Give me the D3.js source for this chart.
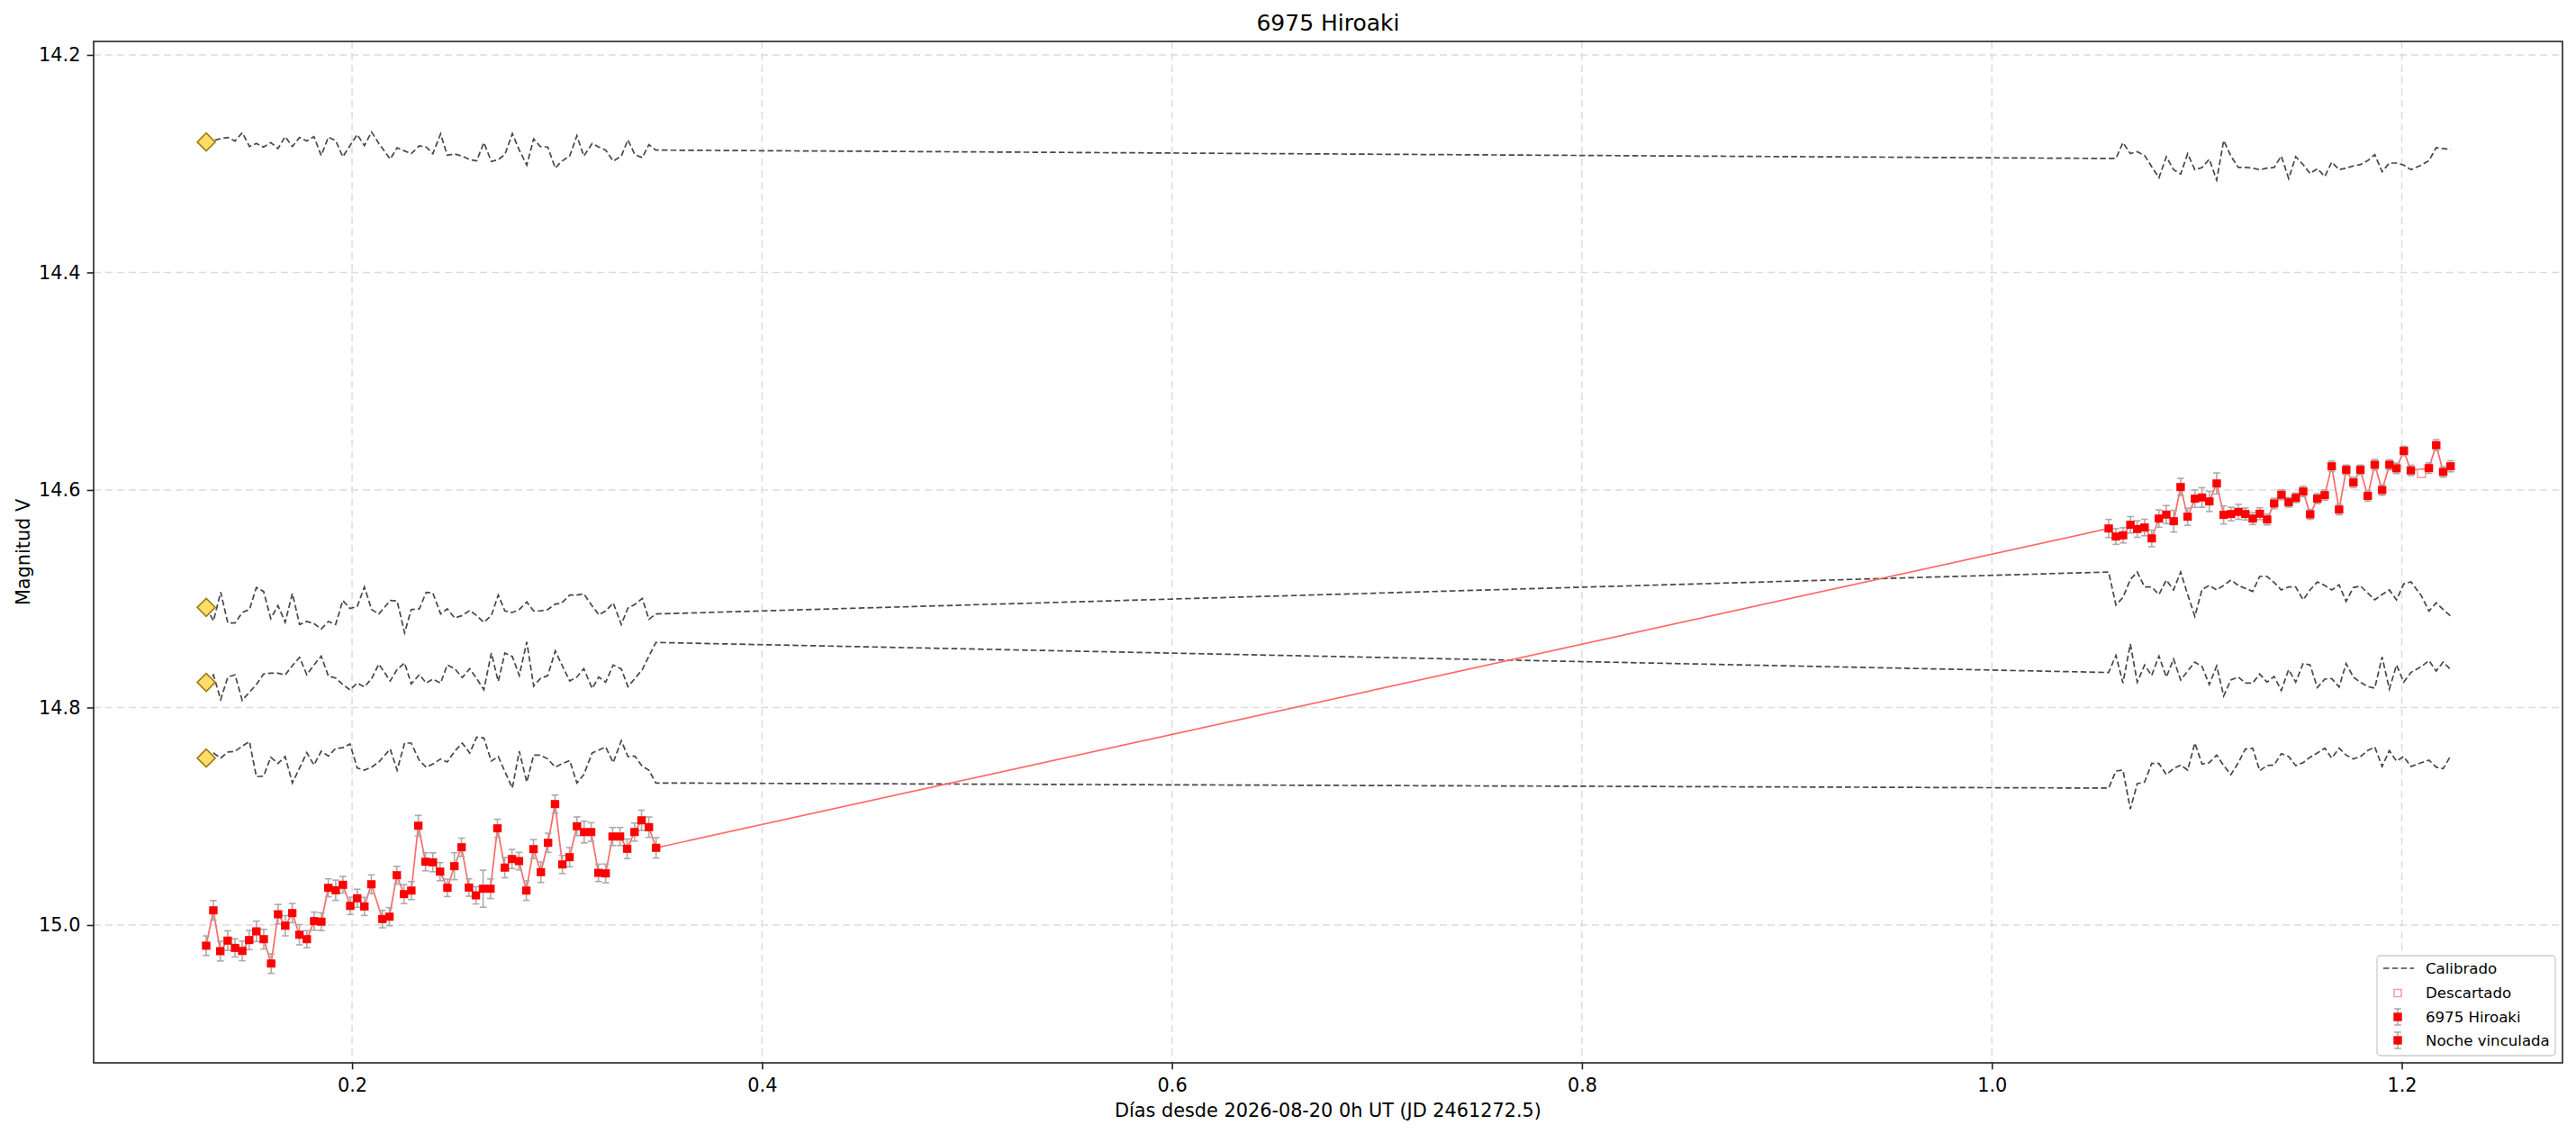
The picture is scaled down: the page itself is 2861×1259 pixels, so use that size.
<!DOCTYPE html>
<html><head><meta charset="utf-8">
<script src="https://cdn.jsdelivr.net/npm/d3@7"></script>
<style>body{margin:0;background:#fff}svg{display:block}text{font-family:"DejaVu Sans",sans-serif}</style>
</head><body><svg id="c" width="2861" height="1259"></svg>
<script>
// ---------- data ----------
const title = "6975 Hiroaki";
const xLabel = "Días desde 2026-08-20 0h UT (JD 2461272.5)";
const yLabel = "Magnitud V";
const xTicks = [0.2, 0.4, 0.6, 0.8, 1.0, 1.2];
const yTicks = [14.2, 14.4, 14.6, 14.8, 15.0];
const xDomain = [0.0739, 1.2784];
const yDomain = [14.1876, 15.1267];
const legendLabels = ["Calibrado", "Descartado", "6975 Hiroaki", "Noche vinculada"];

const night1Days = [0.1288,0.1323,0.1357,0.1393,0.1429,0.1464,0.1498,0.1533,0.1569,0.1605,0.1639,0.1674,0.1708,0.1743,0.1779,0.1815,0.1850,0.1884,0.1920,0.1955,0.1991,0.2025,0.2060,0.2094,0.2148,0.2182,0.2218,0.2253,0.2289,0.2323,0.2358,0.2394,0.2429,0.2465,0.2499,0.2534,0.2570,0.2604,0.2639,0.2675,0.2709,0.2745,0.2780,0.2814,0.2850,0.2885,0.2921,0.2956,0.2990,0.3026,0.3061,0.3097,0.3132,0.3166,0.3202,0.3237,0.3271,0.3307,0.3342,0.3378,0.3412,0.3448,0.3483];
const night1Mag = [15.0190,14.9865,15.0240,15.0143,15.0210,15.0238,15.0138,15.0058,15.0130,15.0354,14.9901,15.0006,14.9890,15.0089,15.0130,14.9964,14.9969,14.9658,14.9680,14.9630,14.9824,14.9754,14.9829,14.9625,14.9945,14.9923,14.9542,14.9716,14.9683,14.9087,14.9418,14.9423,14.9509,14.9658,14.9459,14.9285,14.9655,14.9727,14.9666,14.9666,14.9111,14.9472,14.9393,14.9412,14.9683,14.9302,14.9514,14.9244,14.8888,14.9443,14.9376,14.9092,14.9145,14.9145,14.9520,14.9525,14.9186,14.9186,14.9299,14.9145,14.9037,14.9100,14.9290];
const night1Err = [0.009,0.009,0.009,0.009,0.0083,0.009,0.0088,0.0094,0.009,0.009,0.009,0.0093,0.0088,0.0093,0.0079,0.0083,0.0082,0.0083,0.0093,0.0076,0.0079,0.0083,0.0083,0.0086,0.008,0.0083,0.0082,0.0087,0.0083,0.0095,0.0083,0.0087,0.0083,0.008,0.0124,0.0084,0.008,0.0079,0.017,0.009,0.0083,0.0093,0.0088,0.008,0.009,0.0087,0.0094,0.0088,0.0083,0.0083,0.0088,0.0086,0.01,0.0086,0.008,0.0086,0.0083,0.0083,0.009,0.0083,0.0093,0.0094,0.0094];

const night2Days = [1.0570,1.0605,1.0640,1.0676,1.0709,1.0745,1.0780,1.0815,1.0851,1.0887,1.0921,1.0955,1.0991,1.1025,1.1061,1.1097,1.1131,1.1167,1.1203,1.1237,1.1273,1.1307,1.1343,1.1377,1.1413,1.1448,1.1483,1.1519,1.1553,1.1588,1.1624,1.1658,1.1694,1.1729,1.1764,1.1798,1.1834,1.1868,1.1904,1.1940,1.1974,1.2010,1.2044,1.2132,1.2168,1.2202,1.2238];
const night2Mag = [14.6354,14.6428,14.6417,14.6320,14.6359,14.6345,14.6445,14.6263,14.6226,14.6287,14.5973,14.6246,14.6080,14.6069,14.6105,14.5940,14.6229,14.6221,14.6201,14.6221,14.6263,14.6218,14.6271,14.6124,14.6044,14.6113,14.6072,14.6014,14.6224,14.6080,14.6047,14.5782,14.6180,14.5815,14.5931,14.5815,14.6055,14.5768,14.6000,14.5768,14.5801,14.5641,14.5820,14.5799,14.5588,14.5834,14.5782];
const night2Err = [0.0083,0.0072,0.007,0.0076,0.0076,0.0076,0.0076,0.008,0.0083,0.01,0.008,0.0079,0.008,0.009,0.0093,0.0097,0.0083,0.0062,0.0069,0.0055,0.0055,0.0055,0.005,0.0048,0.0046,0.0044,0.0044,0.0048,0.0046,0.0046,0.0048,0.0048,0.0048,0.0044,0.0048,0.0044,0.0048,0.0048,0.0048,0.0046,0.0048,0.0043,0.0048,0.0048,0.0051,0.0048,0.0051];

const discardedDays = [1.2096];
const discardedMag = [14.5848];

const compDays1 = [0.12884,0.13235,0.13587,0.13938,0.14290,0.14641,0.14992,0.15329,0.15681,0.16032,0.16383,0.16735,0.17086,0.17438,0.17789,0.18140,0.18492,0.18843,0.19195,0.19546,0.19897,0.20249,0.20600,0.20952,0.21303,0.21859,0.22196,0.22562,0.22884,0.23280,0.23616,0.23939,0.24319,0.24641,0.25007,0.25374,0.25740,0.26076,0.26428,0.26794,0.27131,0.27453,0.27819,0.28155,0.28522,0.28858,0.29180,0.29546,0.29913,0.30205,0.30615,0.30967,0.31304,0.31713,0.32036,0.32372,0.32738,0.33134,0.33456,0.33793,0.34159,0.34481,0.34818];
const compDays2 = [1.05697,1.06053,1.06396,1.06756,1.07093,1.07454,1.07795,1.08153,1.08513,1.08864,1.09211,1.09553,1.09904,1.10255,1.10607,1.10968,1.11310,1.11661,1.12027,1.12364,1.12725,1.13067,1.13428,1.13769,1.14121,1.14482,1.14824,1.15185,1.15526,1.15878,1.16244,1.16581,1.16942,1.17283,1.17635,1.17986,1.18338,1.18682,1.19040,1.19392,1.19743,1.20095,1.20446,1.20959,1.21325,1.21676,1.22020,1.22379];

const compA1 = [14.2801,14.2787,14.2770,14.2759,14.2792,14.2715,14.2842,14.2814,14.2847,14.2806,14.2861,14.2751,14.2842,14.2759,14.2792,14.2751,14.2925,14.2756,14.2787,14.2936,14.2834,14.2732,14.2834,14.2709,14.2814,14.2958,14.2853,14.2883,14.2908,14.2836,14.2847,14.2908,14.2726,14.2922,14.2911,14.2930,14.2963,14.2974,14.2806,14.2980,14.2963,14.2916,14.2723,14.2875,14.3013,14.2773,14.2842,14.2847,14.3041,14.2980,14.2930,14.2743,14.2930,14.2814,14.2847,14.2875,14.2977,14.2930,14.2781,14.2916,14.2944,14.2825,14.2875];
const compA2 = [14.2952,14.2952,14.2806,14.2908,14.2889,14.2925,14.3027,14.3129,14.2936,14.3055,14.3096,14.2908,14.3055,14.3035,14.2958,14.3151,14.2787,14.2930,14.3035,14.3035,14.3041,14.3055,14.3041,14.3035,14.2930,14.3137,14.2936,14.3008,14.3090,14.3046,14.3118,14.2986,14.3055,14.3041,14.3021,14.3008,14.2972,14.2917,14.3074,14.2994,14.2994,14.3013,14.3055,14.3013,14.2972,14.2853,14.2861,14.2870];
const compB1 = [14.7079,14.7204,14.6939,14.7223,14.7223,14.7126,14.7099,14.6897,14.6933,14.7182,14.7063,14.7217,14.6952,14.7237,14.7209,14.7228,14.7278,14.7209,14.7237,14.7016,14.7090,14.7071,14.6892,14.7099,14.7140,14.7016,14.7021,14.7314,14.7099,14.7093,14.6941,14.6947,14.7140,14.7093,14.7176,14.7154,14.7107,14.7154,14.7217,14.7154,14.6966,14.7112,14.7126,14.7099,14.7030,14.7112,14.7112,14.7099,14.7049,14.7043,14.6966,14.6966,14.6955,14.7066,14.7148,14.7112,14.7038,14.7237,14.7085,14.7052,14.6997,14.7190,14.7140];
const compB2 = [14.6754,14.7057,14.6988,14.6823,14.6754,14.6892,14.6892,14.6961,14.6828,14.6919,14.6754,14.6961,14.7162,14.6914,14.6878,14.6919,14.6878,14.6828,14.6878,14.6905,14.6933,14.6795,14.6795,14.6850,14.6919,14.6892,14.6892,14.7010,14.6919,14.6845,14.6878,14.6919,14.6872,14.7024,14.6897,14.6883,14.6947,14.7010,14.6961,14.6919,14.7010,14.6864,14.6845,14.6974,14.7113,14.7038,14.7099,14.7159];
const compC1 = [14.7769,14.7700,14.7927,14.7720,14.7700,14.7935,14.7858,14.7789,14.7692,14.7684,14.7684,14.7700,14.7615,14.7540,14.7698,14.7609,14.7527,14.7712,14.7728,14.7789,14.7838,14.7775,14.7811,14.7734,14.7601,14.7756,14.7651,14.7590,14.7783,14.7698,14.7775,14.7739,14.7775,14.7609,14.7643,14.7725,14.7643,14.7734,14.7836,14.7499,14.7761,14.7499,14.7532,14.7706,14.7397,14.7803,14.7734,14.7706,14.7480,14.7596,14.7756,14.7720,14.7643,14.7825,14.7720,14.7767,14.7609,14.7645,14.7808,14.7734,14.7651,14.7527,14.7402];
const compC2 = [14.7678,14.7521,14.7775,14.7416,14.7767,14.7609,14.7706,14.7527,14.7720,14.7554,14.7747,14.7665,14.7582,14.7623,14.7789,14.7618,14.7894,14.7747,14.7720,14.7775,14.7775,14.7692,14.7767,14.7714,14.7844,14.7651,14.7767,14.7596,14.7609,14.7816,14.7739,14.7734,14.7811,14.7596,14.7720,14.7769,14.7808,14.7822,14.7535,14.7830,14.7609,14.7767,14.7678,14.7623,14.7568,14.7665,14.7582,14.7651];
const compD1 = [14.8465,14.8418,14.8465,14.8410,14.8402,14.8355,14.8313,14.8636,14.8631,14.8457,14.8515,14.8451,14.8694,14.8556,14.8415,14.8529,14.8402,14.8446,14.8377,14.8369,14.8335,14.8556,14.8576,14.8548,14.8501,14.8382,14.8576,14.8327,14.8327,14.8487,14.8548,14.8520,14.8473,14.8501,14.8402,14.8327,14.8418,14.8272,14.8280,14.8493,14.8451,14.8589,14.8741,14.8402,14.8686,14.8438,14.8438,14.8473,14.8548,14.8520,14.8487,14.8694,14.8617,14.8418,14.8391,14.8363,14.8507,14.8305,14.8451,14.8446,14.8542,14.8576,14.8694];
const compD2 = [14.8741,14.8584,14.8576,14.8934,14.8700,14.8686,14.8515,14.8515,14.8617,14.8562,14.8529,14.8576,14.8327,14.8520,14.8507,14.8438,14.8534,14.8617,14.8507,14.8382,14.8374,14.8581,14.8534,14.8529,14.8424,14.8451,14.8534,14.8507,14.8457,14.8418,14.8374,14.8465,14.8374,14.8438,14.8473,14.8451,14.8396,14.8363,14.8542,14.8396,14.8493,14.8451,14.8542,14.8507,14.8484,14.8548,14.8562,14.8446];

// ---------- layout ----------
const W = 2861, H = 1259;
const M = {l: 104, t: 46, r: 15, b: 79};
const svg = d3.select("#c");
const x = d3.scaleLinear().domain(xDomain).range([M.l, W - M.r]);
const y = d3.scaleLinear().domain(yDomain).range([M.t, H - M.b]);

const C = {
  grid: "#dcdcdc", comp: "#474747", red: "#ff0000", redLine: "#ff6a6a",
  err: "#aaaaaa", disc: "#ff9a9a", dFill: "#ffdd66", dEdge: "#9a7a12", spine: "#222222"
};

svg.append("defs").append("clipPath").attr("id", "plot")
  .append("rect").attr("x", M.l).attr("y", M.t).attr("width", W - M.l - M.r).attr("height", H - M.t - M.b);

// grid
const grid = svg.append("g");
grid.selectAll("line.gx").data(xTicks).join("line").attr("class", "gx")
  .attr("x1", d => x(d)).attr("x2", d => x(d)).attr("y1", M.t).attr("y2", H - M.b)
  .attr("stroke", C.grid).attr("stroke-width", 1.5).attr("stroke-dasharray", "8,5");
grid.selectAll("line.gy").data(yTicks).join("line").attr("class", "gy")
  .attr("y1", d => y(d)).attr("y2", d => y(d)).attr("x1", M.l).attr("x2", W - M.r)
  .attr("stroke", C.grid).attr("stroke-width", 1.5).attr("stroke-dasharray", "8,5");

const plot = svg.append("g").attr("clip-path", "url(#plot)");
const line = d3.line().x(d => x(d[0])).y(d => y(d[1]));

// comparison stars (calibrated)
const comps = [[compA1, compA2], [compB1, compB2], [compC1, compC2], [compD1, compD2]];
const compSeries = comps.map(([a, b]) =>
  compDays1.map((d, i) => [d, a[i]]).concat(compDays2.map((d, i) => [d, b[i]])));
plot.selectAll("path.comp").data(compSeries).join("path").attr("class", "comp")
  .attr("d", line).attr("fill", "none").attr("stroke", C.comp)
  .attr("stroke-width", 1.7).attr("stroke-dasharray", "6.5,3.3");

const diamond = d3.symbol().type(d3.symbolSquare).size(200);
plot.selectAll("path.dia").data(compSeries.map(s => s[0])).join("path").attr("class", "dia")
  .attr("d", diamond)
  .attr("transform", d => `translate(${x(d[0])},${y(d[1])}) rotate(45)`)
  .attr("fill", C.dFill).attr("stroke", C.dEdge).attr("stroke-width", 1.6);

// target series
const n1 = night1Days.map((d, i) => ({d, m: night1Mag[i], e: night1Err[i]}));
const n2 = night2Days.map((d, i) => ({d, m: night2Mag[i], e: night2Err[i]}));
const all = n1.concat(n2);

plot.append("path").datum(all.map(p => [p.d, p.m])).attr("d", line)
  .attr("fill", "none").attr("stroke", C.redLine).attr("stroke-width", 1.7);

plot.selectAll("rect.disc").data(discardedDays.map((d, i) => [d, discardedMag[i]])).join("rect").attr("class", "disc")
  .attr("x", d => x(d[0]) - 4.5).attr("y", d => y(d[1]) - 4.5).attr("width", 9).attr("height", 9)
  .attr("fill", "none").attr("stroke", C.disc).attr("stroke-width", 1.5);

function drawErr(g, data) {
  const eg = g.append("g").attr("stroke", C.err).attr("stroke-width", 1.6);
  eg.selectAll("line.v").data(data).join("line").attr("class", "v")
    .attr("x1", p => x(p.d)).attr("x2", p => x(p.d)).attr("y1", p => y(p.m - p.e)).attr("y2", p => y(p.m + p.e));
  eg.selectAll("line.t").data(data).join("line").attr("class", "t")
    .attr("x1", p => x(p.d) - 3.8).attr("x2", p => x(p.d) + 3.8).attr("y1", p => y(p.m - p.e)).attr("y2", p => y(p.m - p.e));
  eg.selectAll("line.b").data(data).join("line").attr("class", "b")
    .attr("x1", p => x(p.d) - 3.8).attr("x2", p => x(p.d) + 3.8).attr("y1", p => y(p.m + p.e)).attr("y2", p => y(p.m + p.e));
  g.append("g").selectAll("rect").data(data).join("rect")
    .attr("x", p => x(p.d) - 4.7).attr("y", p => y(p.m) - 4.5).attr("width", 9.4).attr("height", 9)
    .attr("fill", C.red);
}
drawErr(plot.append("g"), n1);
drawErr(plot.append("g"), n2);

// axes
const fs = 20.8;
const xa = svg.append("g").attr("transform", `translate(0,${H - M.b})`)
  .call(d3.axisBottom(x).tickValues(xTicks).tickFormat(d3.format(".1f")).tickSize(7.3).tickPadding(9.6).tickSizeOuter(0));
const ya = svg.append("g").attr("transform", `translate(${M.l},0)`)
  .call(d3.axisLeft(y).tickValues(yTicks).tickFormat(d3.format(".1f")).tickSize(7.3).tickPadding(7.3).tickSizeOuter(0));
[xa, ya].forEach(a => {
  a.select(".domain").remove();
  a.selectAll(".tick line").attr("stroke", C.spine).attr("stroke-width", 1.6);
  a.selectAll(".tick text").attr("font-size", fs).attr("fill", "#000").attr("font-family", "DejaVu Sans");
});

svg.append("rect").attr("x", M.l).attr("y", M.t).attr("width", W - M.l - M.r).attr("height", H - M.t - M.b)
  .attr("fill", "none").attr("stroke", C.spine).attr("stroke-width", 1.6);

// labels
svg.append("text").attr("x", (M.l + W - M.r) / 2).attr("y", 33.5).attr("text-anchor", "middle")
  .attr("font-size", 25).text(title);
svg.append("text").attr("x", (M.l + W - M.r) / 2).attr("y", 1239.5).attr("text-anchor", "middle")
  .attr("font-size", fs).text(xLabel);
svg.append("text").attr("transform", `translate(32.5,${(M.t + H - M.b) / 2}) rotate(-90)`).attr("text-anchor", "middle")
  .attr("font-size", fs).text(yLabel);

// legend
const lg = svg.append("g");
lg.append("rect").attr("x", 2640).attr("y", 1061).attr("width", 198).attr("height", 111).attr("rx", 4)
  .attr("fill", "#fff").attr("fill-opacity", 0.85).attr("stroke", "#cccccc").attr("stroke-width", 1.3);
const ly = [1075, 1102.5, 1129, 1155];
const hx = 2663;
lg.append("line").attr("x1", 2647).attr("x2", 2681).attr("y1", ly[0]).attr("y2", ly[0])
  .attr("stroke", C.comp).attr("stroke-width", 1.7).attr("stroke-dasharray", "6.5,3.3");
lg.append("rect").attr("x", hx - 4).attr("y", ly[1] - 4).attr("width", 8).attr("height", 8)
  .attr("fill", "none").attr("stroke", C.disc).attr("stroke-width", 1.5);
[ly[2], ly[3]].forEach(yy => {
  lg.append("line").attr("x1", hx).attr("x2", hx).attr("y1", yy - 9).attr("y2", yy + 9).attr("stroke", C.err).attr("stroke-width", 1.6);
  lg.append("line").attr("x1", hx - 3.8).attr("x2", hx + 3.8).attr("y1", yy - 9).attr("y2", yy - 9).attr("stroke", C.err).attr("stroke-width", 1.6);
  lg.append("line").attr("x1", hx - 3.8).attr("x2", hx + 3.8).attr("y1", yy + 9).attr("y2", yy + 9).attr("stroke", C.err).attr("stroke-width", 1.6);
  lg.append("rect").attr("x", hx - 4.7).attr("y", yy - 4.7).attr("width", 9.4).attr("height", 9.4).attr("fill", C.red);
});
lg.selectAll("text").data(legendLabels).join("text")
  .attr("x", 2694).attr("y", (d, i) => ly[i]).attr("dy", "0.36em").attr("font-size", 16.6).text(d => d);
</script></body></html>
